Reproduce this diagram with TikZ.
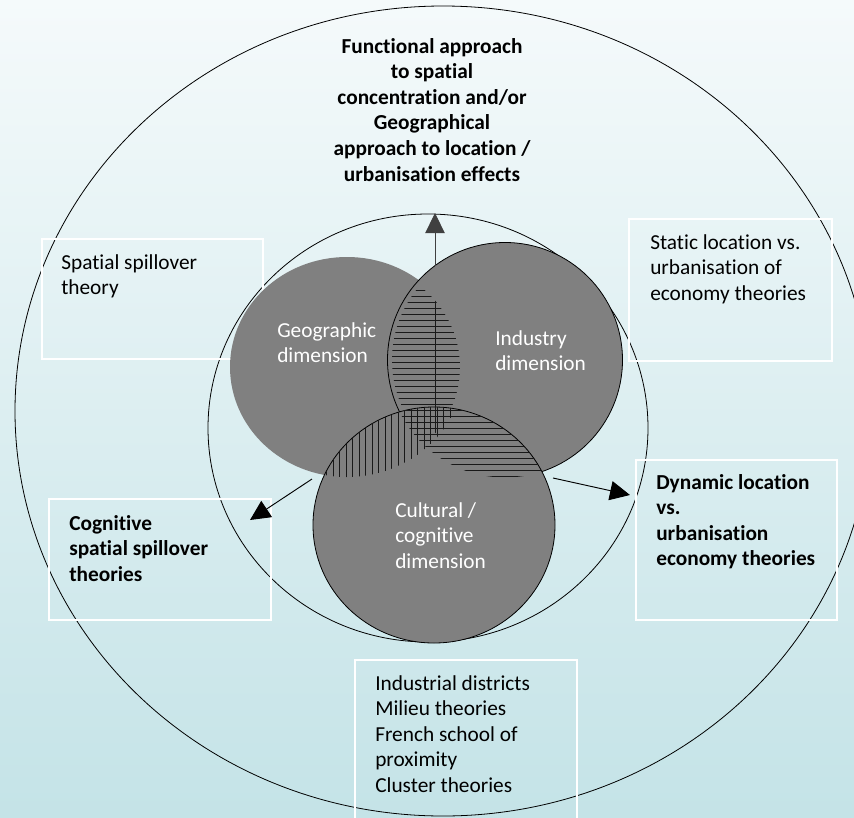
\documentclass[tikz,border=0pt]{standalone}
\usepackage{fontspec}
\setmainfont{Carlito}[Ligatures=NoCommon]
\usetikzlibrary{arrows.meta}
\definecolor{bgtop}{RGB}{245,250,251}
\definecolor{bgbot}{RGB}{196,227,231}
\definecolor{discgrey}{RGB}{128,128,128}
\newcommand{\leftlines}[1]{\begin{tabular}[t]{@{}l@{}}#1\end{tabular}}
\newcommand{\centrelines}[1]{\begin{tabular}[t]{@{}c@{}}#1\end{tabular}}
\begin{document}
\begin{tikzpicture}[x=0.75pt,y=-0.75pt,
  txt/.style={anchor=base west,inner sep=0pt,font=\fontsize{16}{19.2}\selectfont},
  boldtxt/.style={txt,font=\fontsize{16}{19.2}\selectfont\bfseries},
  disctxt/.style={txt,text=white},
  frame/.style={draw=white,line width=1pt},
  ring/.style={draw=black,line width=0.6pt},
  discfill/.style={fill=discgrey},
  hatch/.style={draw=black!90,line width=0.6pt},
  conn/.style={draw=black,line width=0.7pt,-{Triangle[length=15pt,width=14.5pt]}}
]
% canvas and background
\useasboundingbox (0,0) rectangle (854,818);
\clip (0,0) rectangle (854,818);
\shade[top color=bgtop,bottom color=bgbot] (0,0) rectangle (854,818);

% outer and inner rings
\draw[ring] (443,411) ellipse [x radius=428,y radius=405];
\draw[ring] (428,428) ellipse [x radius=220,y radius=214];

% theory frames
\draw[frame] (42,239) rectangle (263,359);
\draw[frame] (629,219) rectangle (832,361);
\draw[frame] (49,499) rectangle (271,620);
\draw[frame] (636,460) rectangle (837,620);
\draw[frame] (355,660) rectangle (577,830);

% the three dimensions
\fill[discfill] (347,367) ellipse [x radius=117,y radius=110];
\filldraw[discfill,ring] (505,360) circle [radius=117.5];
\filldraw[discfill,ring] (434,525) ellipse [x radius=121,y radius=118];

% overlaps: geographic and industry
\begin{scope}
  \clip (347,367) ellipse [x radius=113,y radius=106];
  \clip (505,360) circle [radius=113];
  \foreach \y in {290,296,...,446} \draw[hatch] (370,\y) -- (480,\y);
  \draw[hatch] (435,288) -- (435,442);
\end{scope}
% overlaps: geographic and cultural
\begin{scope}
  \clip (347,367) ellipse [x radius=117,y radius=110];
  \clip (434,525) ellipse [x radius=121,y radius=118];
  \foreach \x in {320,326.5,...,460} \draw[hatch] (\x,400) -- (\x,490);
\end{scope}
% overlaps: industry and cultural
\begin{scope}
  \clip (505,360) circle [radius=117.5];
  \clip (434,525) ellipse [x radius=121,y radius=118];
  \foreach \y in {404,410,...,482} \draw[hatch] (400,\y) -- (560,\y);
\end{scope}

% dimension labels
\node[disctxt] (geo) at (277,337) {\leftlines{Geographic\\dimension}};
\node[disctxt] (ind) at (495,345) {\leftlines{Industry\\dimension}};
\node[disctxt] (cul) at (395,517) {\leftlines{Cultural /\\cognitive\\dimension}};

% theory labels
\node[boldtxt,anchor=base] (func) at (432,53) {\centrelines{Functional approach\\to spatial\\concentration and/or\\Geographical\\approach to location /\\urbanisation effects}};
\node[txt] (spill) at (61,269) {\leftlines{Spatial spillover\\theory}};
\node[txt] (static) at (650,249) {\leftlines{Static location vs.\\urbanisation of\\economy theories}};
\node[boldtxt] (cogn) at (69,530) {\leftlines{Cognitive\\spatial spillover\\theories}};
\node[boldtxt] (dyn) at (656,489) {\leftlines{Dynamic location\\vs.\\urbanisation\\economy theories}};
\node[txt] (dist) at (375,690) {\leftlines{Industrial districts\\Milieu theories\\French school of\\proximity\\Cluster theories}};

% arrows from the overlaps to the theory groups
\coordinate (upstart) at (435,266);
\coordinate (uptip) at (435,213);
\coordinate (lstart) at (312,479);
\coordinate (ltip) at (250,520);
\coordinate (rstart) at (553,478);
\coordinate (rtip) at (630,495);
\draw[conn,draw=black!75] (upstart) -- (uptip);
\draw[conn] (lstart) -- (ltip);
\draw[conn] (rstart) -- (rtip);
\end{tikzpicture}
\end{document}
